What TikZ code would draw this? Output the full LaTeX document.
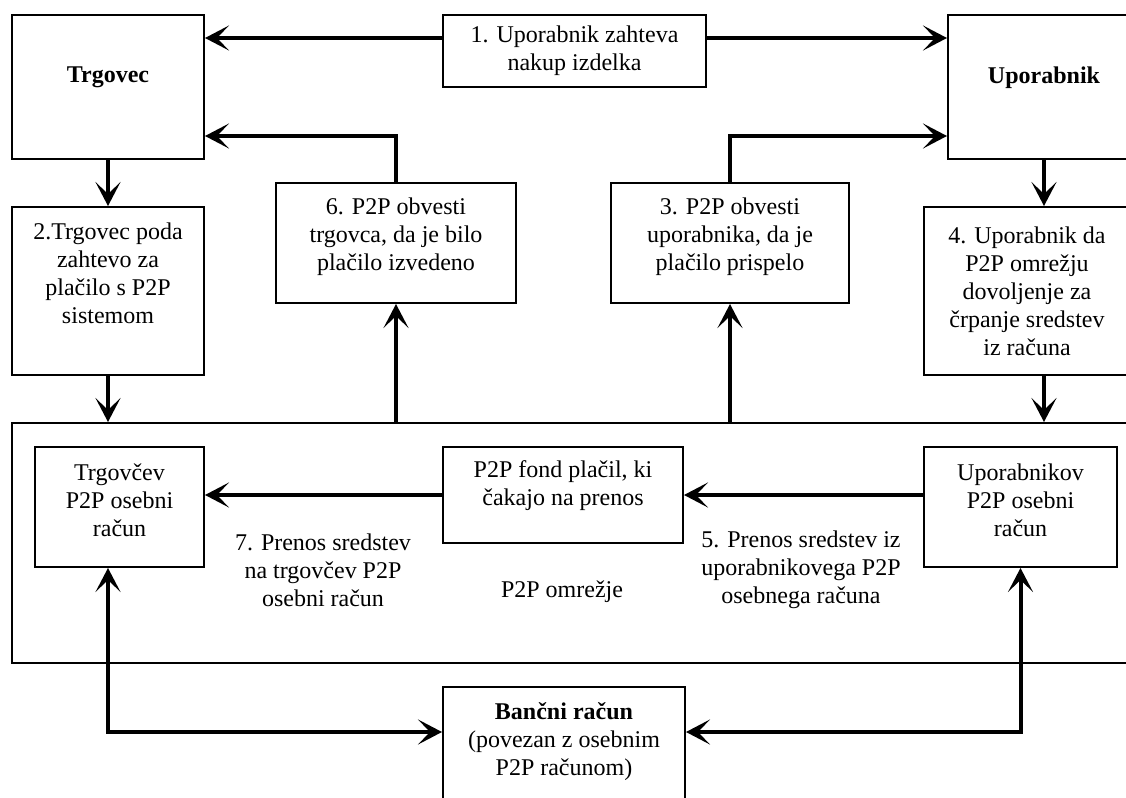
\documentclass[tikz,border=0pt]{standalone}
\usepackage{fontspec}
\setmainfont{Liberation Serif}
\usetikzlibrary{arrows.meta,positioning,calc}

\tikzset{
	box/.style={draw, line width=1pt, align=center, inner sep=2pt, font=\fontsize{12}{14}\selectfont},
	txt/.style={align=center, inner sep=1pt, font=\fontsize{12}{14}\selectfont},
	arr/.style={line width=2pt, -{Stealth[length=12pt,width=12.5pt,inset=6pt]}},
	twoarr/.style={line width=2pt, {Stealth[length=12pt,width=12.5pt,inset=6pt]}-{Stealth[length=12pt,width=12.5pt,inset=6pt]}}
}

\begin{document}
\begin{tikzpicture}[x=0.5pt,y=-0.5pt]
	\useasboundingbox (0,0) rectangle (1126,798);
	\clip (0,0) rectangle (1126,798);
	%%%%% top row
	\node[box, minimum width=96pt, minimum height=72pt] (trader) at (108,87) {\textbf{Trgovec}\\[-2pt]\mbox{}};
	\node[box, minimum width=131.5pt, minimum height=36pt] (req) at (574.5,51) {1. Uporabnik zahteva\\nakup izdelka};
	\node[box, minimum width=96pt, minimum height=72pt] (user) at (1044,87) {\textbf{Uporabnik}\\[-2pt]\mbox{}};
	%%%%% second row
	\node[box, minimum width=96pt, minimum height=84pt] (mreq) at (108,291) {2.Trgovec poda\\zahtevo za\\plačilo s P2P\\sistemom\\[4pt]\mbox{}};
	\node[box, minimum width=120pt, minimum height=60pt] (notm) at (396,243) {6. P2P obvesti\\trgovca, da je bilo\\plačilo izvedeno\\[-5pt]\mbox{}};
	\node[box, minimum width=119pt, minimum height=60pt] (notu) at (730,243) {3. P2P obvesti\\uporabnika, da je\\plačilo prispelo\\[-5pt]\mbox{}};
	\node[box, minimum width=103pt, minimum height=84pt] (perm) at (1027,291) {4. Uporabnik da\\P2P omrežju\\dovoljenje za\\črpanje sredstev\\iz računa};
	%%%%% P2P network
	\node[box, minimum width=564pt, minimum height=120pt] (net) at (576,543) {};
	\node[box, minimum width=84.5pt, minimum height=60pt] (trgacc) at (119.5,507) {Trgovčev\\P2P osebni\\račun\\[-7pt]\mbox{}};
	\node[box, minimum width=120pt, minimum height=48pt] (fund) at (563,495) {P2P fond plačil, ki\\čakajo na prenos\\[-2pt]\mbox{}};
	\node[box, minimum width=96.5pt, minimum height=60pt] (useracc) at (1020.5,507) {Uporabnikov\\P2P osebni\\račun\\[-7pt]\mbox{}};
	\node[txt] (lbl7) at (323,570) {7. Prenos sredstev\\na trgovčev P2P\\osebni račun};
	\node[txt] (lbl5) at (801,570) {5. Prenos sredstev iz\\uporabnikovega P2P\\osebnega računa};
	\node[txt] (netlbl) at (562,592) {P2P omrežje};
	%%%%% bank
	\node[box, minimum width=121pt, minimum height=66.5pt] (bank) at (564,753.5) {\textbf{Bančni račun}\\(povezan z osebnim\\P2P računom)\\\mbox{}};
	%%%%% connectors
	\coordinate (t1) at ([yshift=-12pt]trader.north east);
	\coordinate (t6) at ([yshift=12pt]trader.south east);
	\coordinate (u1) at ([yshift=-12pt]user.north west);
	\coordinate (u3) at ([yshift=12pt]user.south west);
	\coordinate (b1) at ([yshift=-23pt]bank.north west);
	\coordinate (b2) at ([yshift=-23pt]bank.north east);
	\draw[arr] (req.west |- t1) -- (t1);
	\draw[arr] (req.east |- u1) -- (u1);
	\draw[arr] (trader.south) -- (mreq.north);
	\draw[arr] (user.south) -- (user.south |- perm.north);
	\draw[arr] (notm.north) |- (t6);
	\draw[arr] (notu.north) |- (u3);
	\draw[arr] (mreq.south) -- (mreq.south |- net.north);
	\draw[arr] (perm.south -| user.south) -- (user.south |- net.north);
	\draw[arr] (net.north -| notm.south) -- (notm.south);
	\draw[arr] (net.north -| notu.south) -- (notu.south);
	\draw[arr] (fund.west) -- (fund.west -| trgacc.east);
	\draw[arr] (useracc.west |- fund.west) -- (fund.east);
	\draw[twoarr] (trgacc.south -| trader.south) |- (b1);
	\draw[twoarr] (useracc.south) |- (b2);
\end{tikzpicture}
\end{document}
